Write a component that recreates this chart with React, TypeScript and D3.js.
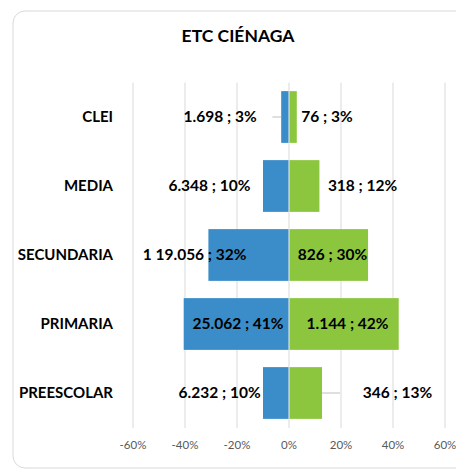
import React from "react";
import * as d3 from "d3";

const categories = ["CLEI", "MEDIA", "SECUNDARIA", "PRIMARIA", "PREESCOLAR"];
const leftValues = [3, 10, 31, 40.5, 10];
const rightValues = [3, 11.7, 30.4, 42.2, 12.7];
const leftLabels = ["1.698 ; 3%", "6.348 ; 10%", "1 19.056 ; 32%", "25.062 ; 41%", "6.232 ; 10%"];
const rightLabels = ["76 ; 3%", "318 ; 12%", "826 ; 30%", "1.144 ; 42%", "346 ; 13%"];
// label centre positions in axis units (percent), as dragged in the original
const leftLabelAt = [-26.5, -30.6, -36.3, -19.6, -26.7];
const rightLabelAt = [14.6, 28.3, 16.7, 22.5, 41.7];
const ticks = [-60, -40, -20, 0, 20, 40, 60];
const title = "ETC CIÉNAGA";

const W = 456;
const H = 471;
const FONT = "Lato, 'Open Sans', sans-serif";

export default function App() {
  const x = d3.scaleLinear().domain([-60, 60]).range([133, 445]);
  const y = d3.scaleBand<string>().domain(categories).range([82.5, 427.5]).paddingInner(0.25).paddingOuter(0.125);
  const bh = y.bandwidth();
  const blue = "#3A8DC9";
  const green = "#8CC63F";
  const cy = (c: string) => (y(c) as number) + bh / 2;

  return (
    <svg width={W} height={H} style={{ position: "absolute", left: 0, top: 0 }}>
      <rect x={0} y={0} width={W} height={H} fill="#fff" />
      <rect x={13} y={11} width={460} height={457} rx={12} fill="#fff" stroke="#d9d9d9" strokeWidth={1} />
      <text x={238} y={42} textAnchor="middle" fontFamily={FONT} fontWeight={700} fontSize={17.5} fill="#000">
        {title}
      </text>
      {ticks.map((t) => (
        <line key={"g" + t} x1={x(t)} x2={x(t)} y1={82.5} y2={428} stroke="#d9d9d9" strokeWidth={1} />
      ))}
      {ticks.map((t) => (
        <text key={"t" + t} x={x(t)} y={449} textAnchor="middle" fontFamily={FONT} fontSize={11.5} fill="#595959">
          {t + "%"}
        </text>
      ))}
      {categories.map((c, i) => (
        <g key={c}>
          <rect x={x(-leftValues[i])} y={y(c)} width={x(0) - x(-leftValues[i]) - 0.5} height={bh} fill={blue} />
          <rect x={x(0) + 0.5} y={y(c)} width={x(rightValues[i]) - x(0) - 0.5} height={bh} fill={green} />
          <text x={113} y={cy(c)} dy="0.35em" textAnchor="end" fontFamily={FONT} fontWeight={700} fontSize={15} fill="#000">
            {c}
          </text>
          <text x={x(leftLabelAt[i])} y={cy(c)} dy="0.35em" textAnchor="middle" fontFamily={FONT} fontWeight={700} fontSize={15.5} fill="#000">
            {leftLabels[i]}
          </text>
          <text x={x(rightLabelAt[i])} y={cy(c)} dy="0.35em" textAnchor="middle" fontFamily={FONT} fontWeight={700} fontSize={15.5} fill="#000">
            {rightLabels[i]}
          </text>
        </g>
      ))}
      <line x1={x(-6.4)} x2={x(-leftValues[0])} y1={cy(categories[0])} y2={cy(categories[0])} stroke="#bfbfbf" strokeWidth={1} />
      <line x1={x(rightValues[4])} x2={x(19.6)} y1={cy(categories[4])} y2={cy(categories[4])} stroke="#bfbfbf" strokeWidth={1} />
    </svg>
  );
}
